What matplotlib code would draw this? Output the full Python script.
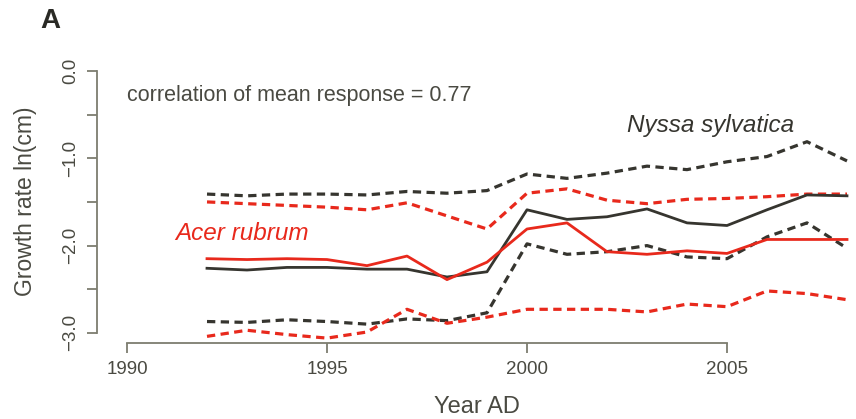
import numpy as np
import matplotlib
matplotlib.use("Agg")
import matplotlib.pyplot as plt

plt.rcParams['font.family'] = ['Liberation Sans', 'DejaVu Sans']

# values
years = list(range(1992, 2009))

nyssa_mean = [-2.26, -2.28, -2.25, -2.25, -2.27, -2.27, -2.36, -2.30, -1.59,
              -1.70, -1.67, -1.58, -1.74, -1.77, -1.59, -1.42, -1.43]
nyssa_upper = [-1.41, -1.43, -1.41, -1.41, -1.42, -1.38, -1.40, -1.37, -1.18,
               -1.23, -1.17, -1.09, -1.13, -1.04, -0.98, -0.81, -1.03]
nyssa_lower = [-2.87, -2.88, -2.85, -2.87, -2.90, -2.84, -2.86, -2.77, -1.98,
               -2.10, -2.07, -2.00, -2.13, -2.15, -1.90, -1.74, -2.03]

acer_mean = [-2.15, -2.16, -2.15, -2.16, -2.23, -2.12, -2.39, -2.19, -1.81,
             -1.74, -2.07, -2.10, -2.06, -2.09, -1.93, -1.93, -1.93]
acer_upper = [-1.50, -1.52, -1.54, -1.56, -1.59, -1.51, -1.66, -1.81, -1.40,
              -1.35, -1.48, -1.52, -1.47, -1.46, -1.44, -1.41, -1.41]
acer_lower = [-3.04, -2.97, -3.02, -3.06, -2.99, -2.73, -2.89, -2.82, -2.73,
              -2.73, -2.73, -2.76, -2.67, -2.70, -2.52, -2.55, -2.62]

x_ticks = [1990, 1995, 2000, 2005]
y_ticks = [0.0, -0.5, -1.0, -1.5, -2.0, -2.5, -3.0]
y_ticklabels = ["0.0", "", "\u22121.0", "", "\u22122.0", "", "\u22123.0"]

red = '#e8291c'
dark = '#36352f'
txt = '#4a4a42'
axcol = '#7d7d70'

fig = plt.figure(figsize=(8.56, 4.19), dpi=100)
ax = fig.add_axes([97/856, (419-343)/419, 1 - 97/856, (343-60)/419])
ax.set_xlim(1989.25, 2008.225)
ax.set_ylim(-3.116, 0.126)

dash = (0, (2.6, 1.7))
ax.plot(years, nyssa_upper, color=dark, lw=2.3, linestyle=dash)
ax.plot(years, nyssa_lower, color=dark, lw=2.3, linestyle=dash)
ax.plot(years, acer_upper, color=red, lw=2.3, linestyle=dash)
ax.plot(years, acer_lower, color=red, lw=2.3, linestyle=dash)
ax.plot(years, nyssa_mean, color=dark, lw=2.0)
ax.plot(years, acer_mean, color=red, lw=2.0)

for s in ['top', 'right']:
    ax.spines[s].set_visible(False)
ax.spines['left'].set_bounds(-3, 0)
ax.spines['bottom'].set_bounds(1990, 2005)
for s in ['left', 'bottom']:
    ax.spines[s].set_color(axcol)
    ax.spines[s].set_linewidth(1.3)

ax.set_xticks(x_ticks)
ax.set_xticklabels([str(v) for v in x_ticks], fontsize=13.5, color=txt)
ax.set_yticks(y_ticks)
ax.set_yticklabels(y_ticklabels, fontsize=13.5, color=txt, rotation=90, va='center')
ax.tick_params(axis='both', length=7, width=1.3, color=axcol, pad=6)

ax.set_xlabel("Year AD", fontsize=17, color=txt, labelpad=13)
ax.set_ylabel("Growth rate ln(cm)", fontsize=16.5, color=txt, labelpad=18)

ax.text(1990, -0.275, "correlation of mean response = 0.77", fontsize=15.5,
        color=txt, va='center', ha='left')
ax.text(2002.5, -0.62, "Nyssa sylvatica", fontsize=17.5, style='italic',
        color=dark, va='center', ha='left')
ax.text(1991.2, -1.86, "Acer rubrum", fontsize=17.5, style='italic',
        color=red, va='center', ha='left')

fig.text(40/856, 1 - 21/419, "A", fontsize=20, fontweight='bold', color='#2a2a25',
         va='center', ha='left')

fig.savefig("out.png", dpi=100)
